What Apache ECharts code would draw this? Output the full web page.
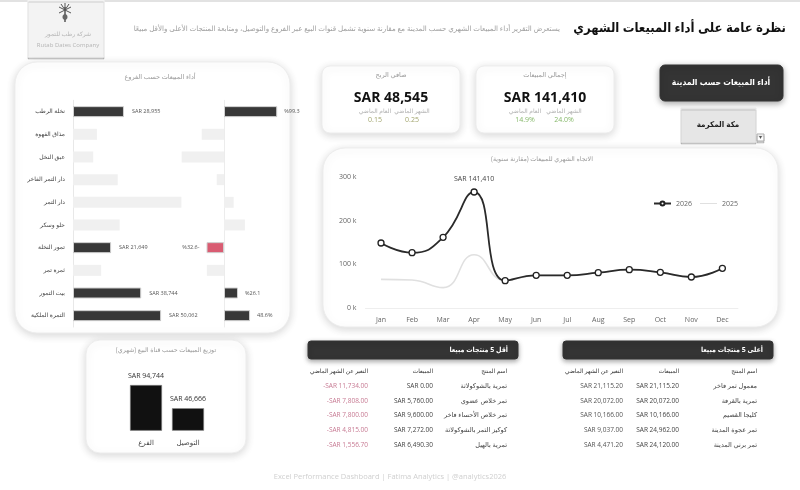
<!DOCTYPE html>
<html><head><meta charset="utf-8">
<script src="https://cdn.jsdelivr.net/npm/echarts@6/dist/echarts.min.js"></script>
<style>html,body{margin:0;padding:0;background:#fff}#c{width:800px;height:490px}</style>
</head><body><div id="c"></div>
<script>
// ---------- DATA ----------
const branches = ['نخلة الرطب','مذاق القهوة','عبق النخل','دار التمر الفاخر','دار التمر','حلو وسكر','تمور النخلة','ثمرة تمر','بيت التمور','التمرة الملكية'];
const branchSales = [28955, 13600, 11500, 25400, 61600, 26500, 21649, 16000, 38744, 50062];
const branchChange = [99.3, -41.6, -79, -13.6, 18, 39, -32.6, -32, 26.1, 48.6];
const highlightedBranches = ['نخلة الرطب','تمور النخلة','بيت التمور','التمرة الملكية'];
const changeLabels = ['%99.3','','','','','','%32.6-','','%26.1','48.6%'];

const months = ['Jan','Feb','Mar','Apr','May','Jun','Jul','Aug','Sep','Oct','Nov','Dec'];
const sales2026 = [148.8, 126.7, 161.8, 265.6, 62.6, 74.8, 74.8, 80.9, 87.8, 81.7, 71.0, 90.9];
const sales2025 = [65.6, 64.0, 46.6, 122.0, 63.0, 74.8, 74.8, 80.9, 87.8, 81.7, 71.0, 90.9];

const channels = ['الفرع','التوصيل'];
const channelSales = [94744, 46666];

const totalSales = 141410;
const netProfit = 48545;
const salesVsLastYear = '14.9%';
const salesVsLastMonth = '24.0%';
const profitVsLastYear = '0.15';
const profitVsLastMonth = '0.25';
const selectedCity = 'مكة المكرمة';

const lowNames = ['تمرية بالشوكولاتة','تمر خلاص عضوي','تمر خلاص الأحساء فاخر','كوكيز التمر بالشوكولاتة','تمرية بالهيل'];
const lowSales = [0, 5760, 9600, 7272, 6490.30];
const lowChange = [-11734, -7808, -7800, -4815, -1556.70];
const topNames = ['معمول تمر فاخر','تمرية بالقرفة','كليجا القصيم','تمر عجوة المدينة','تمر برني المدينة'];
const topSales = [21115.20, 20072, 10166, 24962, 24120];
const topChange = [21115.20, 20072, 10166, 9037, 4471.20];

// ---------- HELPERS ----------
const FONT = "'Open Sans', 'DejaVu Sans', sans-serif";
const CFONT = "'Open Sans', 'DejaVu Sans Condensed', 'DejaVu Sans', sans-serif";
const RLM = '\u200F';
const fmtInt = v => 'SAR ' + Math.round(v).toLocaleString('en-US');
const fmtMoney = v => (v < 0 ? '-' : '') + 'SAR ' + Math.abs(v).toLocaleString('en-US', {minimumFractionDigits: 2, maximumFractionDigits: 2});

function txt(x, y, text, size, color, o) {
  o = o || {};
  return {type: 'text', z: 20, silent: true, style: {
    x: x, y: y, text: text, fontSize: size, fill: color, fontFamily: o.family || FONT,
    fontWeight: o.bold ? 'bold' : 'normal', align: o.align || 'center', verticalAlign: 'middle'}};
}
function card(x, y, w, h, r, o) {
  o = o || {};
  return {type: 'rect', z: o.z || -10, silent: true, shape: {x: x, y: y, width: w, height: h, r: r},
    style: {fill: o.fill || '#fff', stroke: o.stroke || '#ededed', lineWidth: 1,
      shadowBlur: o.blur == null ? 8 : o.blur, shadowColor: o.shadow || 'rgba(0,0,0,0.16)', shadowOffsetX: 0, shadowOffsetY: o.dy == null ? 2 : o.dy}};
}

const g = [];
g.push({type: 'line', z: -10, shape: {x1: 0, y1: 1, x2: 800, y2: 1}, style: {stroke: '#e2e2e2', lineWidth: 2}});
// logo
g.push(card(28, 0, 76, 57, 0, {fill: '#f3f3f3', stroke: '#f3f3f3', blur: 0}));
g.push({type: 'line', z: 5, shape: {x1: 65, y1: 7, x2: 65, y2: 22}, style: {stroke: '#555', lineWidth: 1.5}});
[[-6,-3],[6,-3],[-6,3],[6,3],[-4,-6],[4,-6],[0,-7]].forEach(d => g.push({type: 'line', z: 5, shape: {x1: 65, y1: 10, x2: 65 + d[0], y2: 10 + d[1]}, style: {stroke: '#555', lineWidth: 1}}));
g.push({type: 'ellipse', z: 5, shape: {cx: 65, cy: 17, rx: 2.5, ry: 3}, style: {fill: '#666'}});
g.push(txt(68, 34, 'شركة رطب للتمور', 6, '#b5b5b5'));
g.push(txt(68, 45, 'Rutab Dates Company', 6, '#b5b5b5'));
// title + subtitle
g.push(txt(786, 28, 'نظرة عامة على أداء المبيعات الشهري', 13, '#111', {align: 'right', bold: true, family: CFONT}));
g.push(txt(560, 29, 'يستعرض التقرير أداء المبيعات الشهري حسب المدينة مع مقارنة سنوية تشمل قنوات البيع عبر الفروع والتوصيل، ومتابعة المنتجات الأعلى والأقل مبيعًا', 7.1, '#a0a0a0', {align: 'right'}));

// left card
g.push(card(15, 62, 275, 271, 22));
g.push(txt(160, 77, 'أداء المبيعات حسب الفروع', 6.5, '#999'));
// channel card
g.push(card(86, 340, 160, 113, 14));
g.push(txt(166, 350, RLM + 'توزيع المبيعات حسب قناة البيع (شهري)' + RLM, 6.3, '#999'));
// line card
g.push(card(323, 148, 455, 179, 22));
g.push(txt(542, 159, RLM + 'الاتجاه الشهري للمبيعات (مقارنة سنوية)' + RLM, 6.3, '#999'));

// KPI cards
g.push(card(322, 66, 138, 67, 8));
g.push(card(476, 66, 138, 67, 8));
g.push(txt(391, 75, 'صافي الربح', 6.5, '#999'));
g.push(txt(391, 98, fmtInt(netProfit), 14, '#111', {bold: true}));
g.push(txt(375, 111, 'العام الماضي', 6, '#b0b0b0'));
g.push(txt(412, 111, 'الشهر الماضي', 6, '#b0b0b0'));
g.push(txt(375, 120, profitVsLastYear, 7, '#a2a56e'));
g.push(txt(412, 120, profitVsLastMonth, 7, '#a2a56e'));
g.push(txt(545, 75, 'إجمالي المبيعات', 6.5, '#999'));
g.push(txt(545, 98, fmtInt(totalSales), 14, '#111', {bold: true}));
g.push(txt(525, 111, 'العام الماضي', 6, '#b0b0b0'));
g.push(txt(564, 111, 'الشهر الماضي', 6, '#b0b0b0'));
g.push(txt(525, 120, salesVsLastYear, 7, '#86b86a'));
g.push(txt(564, 120, salesVsLastMonth, 7, '#86b86a'));

// city button + slicer
g.push(card(660, 65, 123, 36, 5, {fill: '#343434', stroke: '#343434', blur: 6, shadow: 'rgba(0,0,0,0.35)'}));
g.push(txt(721, 83, 'أداء المبيعات حسب المدينة', 8.5, '#fff', {bold: true, family: CFONT}));
g.push(card(681, 108, 75, 34, 0, {fill: '#e6e6e6', stroke: '#e6e6e6', blur: 0}));
g.push(txt(718, 125, selectedCity, 8, '#222', {bold: true, family: CFONT}));
g.push(card(757, 134, 7, 7, 0, {fill: '#fff', stroke: '#aaa', blur: 0, z: 3}));
g.push(txt(760.5, 137.5, '▾', 6, '#555'));

// tables
function table(x0, headerText, nameRight, salesRight, chgRight, names, sales, change, chgColor) {
  g.push(card(x0, 341, 210, 18, 3, {fill: '#343434', stroke: '#343434', blur: 5, shadow: 'rgba(0,0,0,0.35)'}));
  g.push(txt(x0 + 200, 350, headerText, 7, '#fff', {align: 'right', bold: true, family: CFONT}));
  g.push(txt(nameRight, 371, 'اسم المنتج', 5.8, '#333', {align: 'right'}));
  g.push(txt(salesRight, 371, 'المبيعات', 5.8, '#333', {align: 'right'}));
  g.push(txt(chgRight, 371, 'التغير عن الشهر الماضي', 5.8, '#333', {align: 'right'}));
  names.forEach((n, i) => {
    const y = 386 + i * 14.75;
    g.push(txt(nameRight, y, n, 6.5, '#444', {align: 'right'}));
    g.push(txt(salesRight, y, fmtMoney(sales[i]), 6.5, '#444', {align: 'right'}));
    g.push(txt(chgRight, y, fmtMoney(change[i]), 6.5, chgColor, {align: 'right'}));
  });
}
table(308, 'أقل 5 منتجات مبيعا', 507, 433, 368, lowNames, lowSales, lowChange, '#c77a93');
table(563, 'أعلى 5 منتجات مبيعا', 757, 679, 623, topNames, topSales, topChange, '#555');

// footer
g.push(txt(390, 477, 'Excel Performance Dashboard | Fatima Analytics | @analytics2026', 7.5, '#cfcfcf'));

// ---------- SERIES DATA ----------
const isHi = n => highlightedBranches.indexOf(n) >= 0;
const salesData = branchSales.map((v, i) => {
  const hi = isHi(branches[i]);
  return {value: v, itemStyle: {color: hi ? '#383838' : '#f0f0f0', borderColor: hi ? '#cfcfcf' : '#f0f0f0', borderWidth: hi ? 1 : 0},
    label: {show: hi}};
});
const changeData = branchChange.map((v, i) => {
  const hi = isHi(branches[i]);
  const neg = v < 0;
  return {value: v, itemStyle: {color: hi ? (neg ? '#d95c72' : '#383838') : '#f0f0f0', borderColor: hi ? '#d0d0d0' : '#f0f0f0', borderWidth: hi ? 1 : 0},
    label: {show: hi, position: neg ? 'left' : 'right', formatter: changeLabels[i]}};
});
const peakIdx = 3;
const line2026 = sales2026.map((v, i) => i === peakIdx ? {value: v, label: {show: true, position: 'top', distance: 6, formatter: fmtInt(totalSales), fontSize: 7, color: '#444', fontFamily: FONT}} : v);

const chart = echarts.init(document.getElementById('c'), null, {renderer: 'canvas'});
const gridTop = 100.3, gridH = 226.7;
chart.setOption({
  backgroundColor: '#fff',
  animation: false,
  textStyle: {fontFamily: FONT},
  grid: [
    {left: 73, top: gridTop, width: 114.4, height: gridH},
    {left: 170.4, top: gridTop, width: 107.2, height: gridH},
    {left: 125, top: 382.5, width: 84, height: 48.2},
    {left: 365.5, top: 177, width: 372.4, height: 131}
  ],
  xAxis: [
    {gridIndex: 0, type: 'value', min: 0, max: 65000, show: false},
    {gridIndex: 1, type: 'value', min: -100, max: 100, show: false},
    {gridIndex: 2, type: 'category', data: channels, axisLine: {show: false}, axisTick: {show: false},
      axisLabel: {margin: 9, fontSize: 7, color: '#444', fontFamily: FONT}},
    {gridIndex: 3, type: 'category', data: months, boundaryGap: true,
      axisLine: {lineStyle: {color: '#eeeeee'}}, axisTick: {show: false},
      axisLabel: {margin: 8, fontSize: 7, color: '#666', fontFamily: FONT}}
  ],
  yAxis: [
    {gridIndex: 0, type: 'category', data: branches, inverse: true,
      axisLine: {show: true, lineStyle: {color: '#e8e8e8'}}, axisTick: {show: false},
      axisLabel: {margin: 8, fontSize: 6, color: '#444', fontFamily: FONT, interval: 0}},
    {gridIndex: 1, type: 'category', data: branches, inverse: true,
      axisLine: {show: true, onZero: true, lineStyle: {color: '#ececec'}}, axisTick: {show: false}, axisLabel: {show: false}},
    {gridIndex: 2, type: 'value', min: 0, max: 100000, show: false},
    {gridIndex: 3, type: 'value', min: 0, max: 300, interval: 100, splitLine: {show: false},
      axisLine: {show: false}, axisTick: {show: false},
      axisLabel: {margin: 9, fontSize: 7, color: '#666', fontFamily: FONT, formatter: v => v + ' k'}}
  ],
  legend: {left: 648, top: 195, itemWidth: 17, itemHeight: 5, itemGap: 8,
    data: [{name: '2026'}, {name: '2025', icon: 'path://M0,0 L20,0 L20,1.2 L0,1.2 Z'}],
    textStyle: {fontSize: 7, color: '#666', fontFamily: FONT}},
  series: [
    {type: 'bar', xAxisIndex: 0, yAxisIndex: 0, data: salesData, barWidth: 11, silent: true,
      label: {position: 'right', distance: 8, fontSize: 5.5, color: '#555', fontFamily: FONT, formatter: p => fmtInt(p.value)}},
    {type: 'bar', xAxisIndex: 1, yAxisIndex: 1, data: changeData, barWidth: 11, silent: true,
      label: {distance: 7, fontSize: 5.5, color: '#555', fontFamily: FONT}},
    {type: 'bar', xAxisIndex: 2, yAxisIndex: 2, data: channelSales, barWidth: 32, silent: true,
      itemStyle: {color: '#111', borderColor: '#888', borderWidth: 0.6},
      label: {show: true, position: 'top', distance: 6, fontSize: 7, color: '#333', fontFamily: FONT, formatter: p => fmtInt(p.value)}},
    {name: '2025', type: 'line', xAxisIndex: 3, yAxisIndex: 3, data: sales2025, smooth: true, symbol: 'none',
      lineStyle: {color: '#e0e0e0', width: 1.6}, itemStyle: {color: '#e0e0e0'}, z: 2},
    {name: '2026', type: 'line', xAxisIndex: 3, yAxisIndex: 3, data: line2026, smooth: true,
      symbol: 'circle', symbolSize: 6, lineStyle: {color: '#2a2a2a', width: 1.8},
      itemStyle: {color: '#fff', borderColor: '#222', borderWidth: 1.3}, z: 3}
  ],
  graphic: {elements: g}
});
</script></body></html>
